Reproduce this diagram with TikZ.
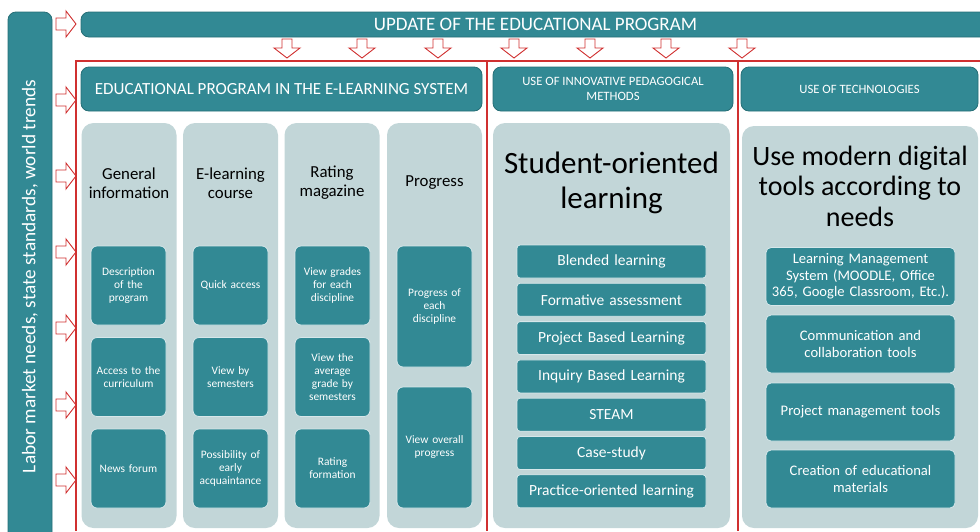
\documentclass[tikz,border=0pt]{standalone}
\usepackage{fontspec}
\setmainfont{Carlito}
\usepackage{tikz}
\definecolor{tealfill}{RGB}{50,137,148}
\definecolor{tealedge}{RGB}{38,110,118}
\definecolor{pale}{RGB}{194,214,216}
\definecolor{redline}{RGB}{208,48,48}

\begin{document}
\begin{tikzpicture}[x=1pt,y=-1pt,
	head/.style={draw=tealedge,line width=0.8pt,fill=tealfill,rounded corners=8pt,text=white,inner sep=0pt,align=center},
	panel/.style={fill=pale,rounded corners=12pt,inner sep=0pt},
	coltitle/.style={align=center,inner sep=0pt,font=\fontsize{16.8}{19}\selectfont},
	cell/.style={draw=white!80!tealfill,line width=0.8pt,fill=tealfill,rounded corners=6pt,text=white,inner sep=2pt,align=center,minimum width=75,text width=71,font=\fontsize{11.4}{13}\selectfont},
	method/.style={cell,minimum width=189,minimum height=33,text width=185,rounded corners=3pt,font=\fontsize{15.5}{17}\selectfont},
	tool/.style={cell,minimum width=189,minimum height=58,text width=185,rounded corners=5pt,font=\fontsize{14.6}{16.5}\selectfont},
	redarr/.style={draw=redline,line width=0.9pt,fill=white,line join=miter}]
	\useasboundingbox (0,0) rectangle (980,531);
	% left bar and banner
	\node[head,rotate=90,minimum width=529,minimum height=44,font=\fontsize{19.3}{22}\selectfont] (bar) at (30,276.5) {Labor market needs, state standards, world trends};
	\node[head,minimum width=909,minimum height=25,font=\fontsize{19}{22}\selectfont] (banner) at (535.5,24.5) {UPDATE OF THE EDUCATIONAL PROGRAM};
	% section headers
	\node[head,minimum width=401,minimum height=44,font=\fontsize{17}{20}\selectfont] (headA) at (281.5,89) {EDUCATIONAL PROGRAM IN THE E-LEARNING SYSTEM};
	\node[head,minimum width=240,minimum height=44,font=\fontsize{12.7}{15}\selectfont] (headB) at (613,89) {USE OF INNOVATIVE PEDAGOGICAL\\METHODS};
	\node[head,minimum width=237,minimum height=44,font=\fontsize{12.7}{15}\selectfont] (headC) at (859.5,89) {USE OF TECHNOLOGIES};
	% red frame
	\draw[redline,line width=1.2pt] (76,531) -- (76,61) -- (980,61);
	\draw[redline,line width=1.2pt] (487,61) -- (487,531);
	\draw[redline,line width=1.2pt] (738,61) -- (738,531);
	% arrows from the bar
	\foreach \y in {24,100,176,252,328,405,480}
		\draw[redarr] (56,\y-6) -- (66,\y-6) -- (66,\y-13) -- (76,\y) -- (66,\y+13) -- (66,\y+6) -- (56,\y+6) -- cycle;
	% arrows from the banner
	\foreach \x in {287,362,438,514,590,666,742}
		\draw[redarr] (\x-5,39) -- (\x+5,39) -- (\x+5,48) -- (\x+13,48) -- (\x,58) -- (\x-13,48) -- (\x-5,48) -- cycle;
	% panels
	\node[panel,minimum width=95,minimum height=405] (colA) at (129,325.5) {};
	\node[panel,minimum width=95,minimum height=405] (colB) at (230.5,325.5) {};
	\node[panel,minimum width=95,minimum height=405] (colC) at (332,325.5) {};
	\node[panel,minimum width=95,minimum height=405] (colD) at (434.5,325.5) {};
	\node[panel,minimum width=237,minimum height=405] (panelB) at (611.5,325.5) {};
	\node[panel,minimum width=236,minimum height=402] (panelC) at (860,327) {};
	% column titles
	\node[coltitle] (titleA) at (129,183) {General\\information};
	\node[coltitle] (titleB) at (230.5,183) {E-learning\\course};
	\node[coltitle] (titleC) at (332,183) {Rating\\magazine};
	\node[coltitle] (titleD) at (434.5,183) {Progress};
	\node[align=center,inner sep=0pt,font=\fontsize{31}{35}\selectfont] (titleB) at (611.5,183) {Student-oriented\\learning};
	\node[align=center,inner sep=0pt,font=\fontsize{28}{30.5}\selectfont] (titleC) at (860,186) {Use modern digital\\tools according to\\needs};
	% e-learning system
	\node[cell,minimum height=79] (descr) at (128.5,285.5) {Description\\of the\\program};
	\node[cell,minimum height=79] (curric) at (128.5,377) {Access to the\\curriculum};
	\node[cell,minimum height=79] (forum) at (128.5,468.5) {News forum};
	\node[cell,minimum height=79] (quick) at (230.5,285.5) {Quick access};
	\node[cell,minimum height=79] (bysem) at (230.5,377) {View by\\semesters};
	\node[cell,minimum height=79] (early) at (230.5,468.5) {Possibility of\\early\\acquaintance};
	\node[cell,minimum height=79] (grades) at (332.5,285.5) {View grades\\for each\\discipline};
	\node[cell,minimum height=79] (average) at (332.5,377) {View the\\average\\grade by\\semesters};
	\node[cell,minimum height=79] (rating) at (332.5,468.5) {Rating\\formation};
	\node[cell,minimum height=121] (progdisc) at (434.5,306.5) {Progress of\\each\\discipline};
	\node[cell,minimum height=121] (overall) at (434.5,447.5) {View overall\\progress};
	% methods
	\foreach \t [count=\i from 0] in {Blended learning,Formative assessment,Project Based Learning,Inquiry Based Learning,STEAM,Case-study,Practice-oriented learning}
		\node[method] (meth\i) at (611.5,{261.5+38.3*\i}) {\t};
	% tools
	\node[tool] (lms) at (860.5,276.5) {Learning Management\\System (MOODLE, Office\\365, Google Classroom, Etc.).};
	\node[tool] (collab) at (860.5,344) {Communication and\\collaboration tools};
	\node[tool] (projman) at (860.5,412) {Project management tools};
	\node[tool] (materials) at (860.5,479) {Creation of educational\\materials};
\end{tikzpicture}
\end{document}
